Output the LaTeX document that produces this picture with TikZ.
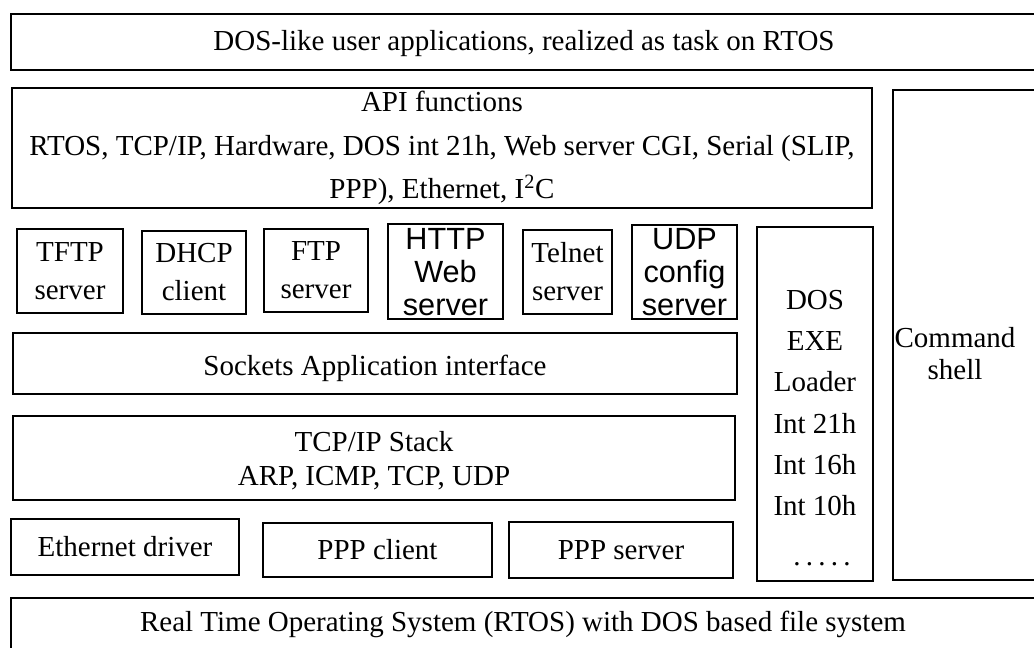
\documentclass[tikz,border=0pt]{standalone}
\usepackage{fontspec}
\setmainfont{Liberation Serif}
\setsansfont{Liberation Sans}
\newlength\px
\setlength\px{0.75pt}
\newcommand\fivedots{.\kern3.9pt.\kern3.9pt.\kern3.9pt.\kern3.9pt.}
\tikzset{
  layer/.style={draw=black, line width=1.3pt, inner sep=0pt, align=center,
    font=\fontsize{21.75}{31}\selectfont},
  svc/.style={layer, font=\fontsize{21.75}{28.5}\selectfont},
  label/.style={inner sep=0pt, align=center, font=\fontsize{21.75}{31}\selectfont},
  sanslabel/.style={label, font=\sffamily\fontsize{23}{25}\selectfont},
}
\begin{document}
\begin{tikzpicture}[x=0.75pt, y=-0.75pt]
\clip (0,0) rectangle (1034,648);
\useasboundingbox (0,0) rectangle (1034,648);

% application layer
\node[layer, minimum width=1026*\px, minimum height=56*\px] (apps) at (524,42) {};
\node[label] (appstext) at (524,43.5) {DOS-like user applications, realized as task on RTOS};

% API functions
\node[layer, minimum width=860*\px, minimum height=120*\px,
  font=\fontsize{21.75}{32.5}\selectfont] (api) at (442,148)
  {API functions\\RTOS, TCP/IP, Hardware, DOS int 21h, Web server CGI, Serial (SLIP,\\PPP), Ethernet, I\textsuperscript{2}C};

% network services
\node[svc, minimum width=106*\px, minimum height=84*\px] (tftp) at (70,271) {TFTP\\server};
\node[svc, minimum width=104*\px, minimum height=83*\px] (dhcp) at (194,272.5) {DHCP\\client};
\node[svc, minimum width=104*\px, minimum height=83*\px] (ftp) at (316,270.5) {FTP\\server};
\node[layer, minimum width=115*\px, minimum height=95*\px] (http) at (445.5,271.5) {};
\node[sanslabel] (httptext) at (445.5,272) {HTTP\\Web\\server};
\node[svc, minimum width=89*\px, minimum height=84*\px] (telnet) at (567.5,272) {Telnet\\server};
\node[layer, minimum width=105*\px, minimum height=94*\px] (udp) at (684.5,272) {};
\node[sanslabel] (udptext) at (684.5,272) {UDP\\config\\server};

% sockets and stack
\node[layer, minimum width=724*\px, minimum height=61*\px] (sockets) at (375,363.5) {};
\node[label] (socketstext) at (375,368) {Sockets Application interface};
\node[layer, minimum width=722*\px, minimum height=84*\px] (tcpip) at (374,458) {};
\node[label, font=\fontsize{21.75}{25.5}\selectfont] (tcpiptext) at (374,461)
  {TCP/IP Stack\\ARP, ICMP, TCP, UDP};

% drivers
\node[layer, minimum width=228*\px, minimum height=56*\px] (eth) at (125,547) {Ethernet driver};
\node[layer, minimum width=229*\px, minimum height=54*\px] (pppc) at (377.5,550) {PPP client};
\node[layer, minimum width=224*\px, minimum height=56*\px] (ppps) at (621,550) {PPP server};

% DOS loader column
\node[layer, minimum width=116*\px, minimum height=354*\px] (dos) at (815,404) {};
\node[label] (dostext) at (815,403) {DOS\\EXE\\Loader\\Int 21h\\Int 16h\\Int 10h};
\node[label, anchor=base] (dosdots) at (822,565) {\fivedots};

% command shell column
\node[layer, minimum width=152*\px, minimum height=490*\px] (cmd) at (969,335) {};
\node[label, font=\fontsize{21.75}{24}\selectfont] (cmdtext) at (955,354) {Command\\shell};

% operating system
\node[layer, minimum width=1034*\px, minimum height=72*\px] (rtos) at (528,634) {};
\node[label] (rtostext) at (523,624) {Real Time Operating System (RTOS) with DOS based file system};
\end{tikzpicture}
\end{document}
